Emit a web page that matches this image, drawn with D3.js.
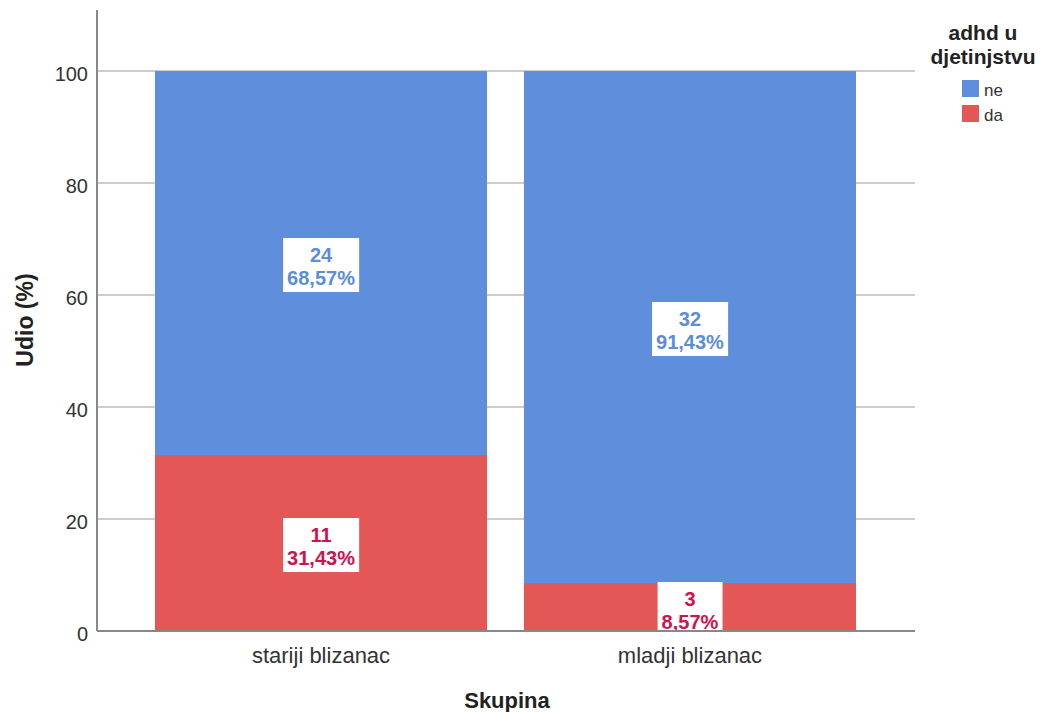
<!DOCTYPE html>
<html>
<head>
<meta charset="utf-8">
<script src="https://cdn.jsdelivr.net/npm/d3@7"></script>
<style>
  body { margin: 0; background: #fff; }
  text { font-family: "Liberation Sans", Arial, sans-serif; }
</style>
</head>
<body>
<div id="chart"></div>
<script>
var groups = ["stariji blizanac", "mladji blizanac"];
var seriesNames = ["ne", "da"];
var counts_ne = [24, 32];
var counts_da = [11, 3];
var pct_ne = [68.57, 91.43];
var pct_da = [31.43, 8.57];
var yTicks = [0, 20, 40, 60, 80, 100];

var colour = {ne: "#5f8fdc", da: "#e45757"};
var textColour = {ne: "#5b8ddb", da: "#d0124f"};

var width = 1044, height = 712;
var plotLeft = 97, plotRight = 915, plotTop = 10, plotBottom = 631;

var svg = d3.select("#chart").append("svg")
  .attr("width", width)
  .attr("height", height);

var y = d3.scaleLinear().domain([0, 110.9]).range([plotBottom, plotTop]);
var x = d3.scaleBand().domain(groups).range([155, 856]).paddingInner(0.1).paddingOuter(0);

// gridlines
svg.append("g").selectAll("line")
  .data(yTicks.filter(function(d) { return d > 0; }))
  .enter().append("line")
  .attr("x1", plotLeft).attr("x2", plotRight)
  .attr("y1", function(d) { return y(d); })
  .attr("y2", function(d) { return y(d); })
  .style("stroke", "#bdbdbd")
  .style("stroke-width", 1.5);

// stacked data
var rows = groups.map(function(g, i) {
  return {group: g, ne: pct_ne[i], da: pct_da[i], n_ne: counts_ne[i], n_da: counts_da[i]};
});
var stack = d3.stack().keys(["da", "ne"])(rows);

var layers = svg.append("g").selectAll("g")
  .data(stack)
  .enter().append("g")
  .style("fill", function(d) { return colour[d.key]; });

layers.selectAll("rect")
  .data(function(d) { return d; })
  .enter().append("rect")
  .attr("x", function(d) { return x(d.data.group); })
  .attr("width", x.bandwidth())
  .attr("y", function(d) { return y(d[1]); })
  .attr("height", function(d) { return y(d[0]) - y(d[1]); });

// value labels
var fmt = function(v) { return v.toFixed(2).replace(".", ",") + "%"; };
stack.forEach(function(layer) {
  layer.forEach(function(d) {
    var key = layer.key;
    var cx = x(d.data.group) + x.bandwidth() / 2;
    var cy = (y(d[0]) + y(d[1])) / 2;
    var l1 = String(d.data["n_" + key]);
    var l2 = fmt(d.data[key]);
    var g = svg.append("g").attr("transform", "translate(" + cx + "," + cy + ")");
    var t = g.append("text")
      .attr("text-anchor", "middle")
      .style("font-size", "20px")
      .style("font-weight", "bold")
      .style("fill", textColour[key]);
    t.append("tspan").attr("x", 0).attr("y", -1).text(l1);
    t.append("tspan").attr("x", 0).attr("y", 22).text(l2);
    var bb = t.node().getBBox();
    g.insert("rect", "text")
      .attr("x", bb.x - 4).attr("y", -25)
      .attr("width", bb.width + 8).attr("height", 54)
      .style("fill", "#fff");
  });
});

// axes lines
svg.append("line")
  .attr("x1", plotLeft).attr("x2", plotLeft).attr("y1", plotTop).attr("y2", plotBottom)
  .style("stroke", "#888").style("stroke-width", 2);
svg.append("line")
  .attr("x1", plotLeft).attr("x2", plotRight).attr("y1", plotBottom).attr("y2", plotBottom)
  .style("stroke", "#888").style("stroke-width", 2);

// y tick labels
svg.append("g").selectAll("text")
  .data(yTicks)
  .enter().append("text")
  .attr("x", 88)
  .attr("y", function(d) { return y(d) + 10; })
  .attr("text-anchor", "end")
  .style("font-size", "20px")
  .style("fill", "#333")
  .text(function(d) { return d; });

// x tick labels
svg.append("g").selectAll("text")
  .data(groups)
  .enter().append("text")
  .attr("x", function(d) { return x(d) + x.bandwidth() / 2; })
  .attr("y", 663)
  .attr("text-anchor", "middle")
  .style("font-size", "22px")
  .style("fill", "#333")
  .text(function(d) { return d; });

// axis titles
svg.append("text")
  .attr("x", 507).attr("y", 708)
  .attr("text-anchor", "middle")
  .style("font-size", "22px").style("font-weight", "bold").style("fill", "#222")
  .text("Skupina");
svg.append("text")
  .attr("transform", "translate(33," + 320 + ") rotate(-90)")
  .attr("text-anchor", "middle")
  .style("font-size", "23px").style("font-weight", "bold").style("fill", "#222")
  .text("Udio (%)");

// legend
var legend = svg.append("g");
legend.append("text")
  .attr("x", 983).attr("y", 40)
  .attr("text-anchor", "middle")
  .style("font-size", "21px").style("font-weight", "bold").style("fill", "#222")
  .text("adhd u");
legend.append("text")
  .attr("x", 983).attr("y", 64)
  .attr("text-anchor", "middle")
  .style("font-size", "21px").style("font-weight", "bold").style("fill", "#222")
  .text("djetinjstvu");
seriesNames.forEach(function(s, i) {
  legend.append("rect")
    .attr("x", 962).attr("y", 80 + i * 25)
    .attr("width", 17).attr("height", 17)
    .style("fill", colour[s]);
  legend.append("text")
    .attr("x", 984).attr("y", 96 + i * 25)
    .style("font-size", "17px").style("fill", "#333")
    .text(s);
});
</script>
</body>
</html>
